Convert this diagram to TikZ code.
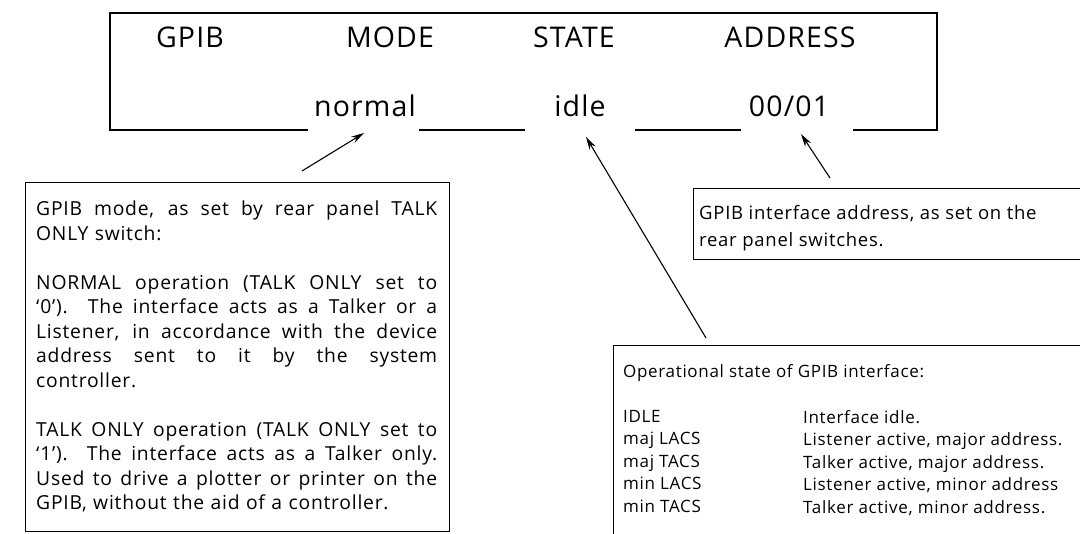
\documentclass[tikz,border=0pt]{standalone}
\usepackage{fontspec}
\setmainfont{Open Sans}[LetterSpace=4]
\usetikzlibrary{arrows.meta}
\newcommand{\jline}[1]{{\spaceskip=0.26em plus 2em\xspaceskip=0.3em plus 2em\makebox[401pt][s]{#1}}}
\begin{document}
\begin{tikzpicture}[x=1pt,y=-1pt,
  frame/.style={line width=2.6pt},
  thinbox/.style={line width=1pt},
  head/.style={font=\fontsize{28.5}{32}\selectfont, anchor=base, inner sep=0pt},
  note/.style={font=\fontsize{19.3}{24.5}\selectfont, anchor=north west, inner sep=0pt, align=left},
  note2/.style={font=\fontsize{17}{22.5}\selectfont, anchor=north west, inner sep=0pt, align=left},
  note3/.style={font=\fontsize{18.5}{27}\selectfont, anchor=north west, inner sep=0pt, align=left},
  pointer/.style={line width=1.1pt, -{Stealth[length=13pt,width=7pt]}},
]
\useasboundingbox (0,0) rectangle (1080,534);
\fill[white] (0,0) rectangle (1080,534);
\clip (0,0) rectangle (1080,534);

% display panel
\node[head] (hgpib) at (190,48) {GPIB};
\node[head] (hmode) at (390,48) {MODE};
\node[head] (hstate) at (574,48) {STATE};
\node[head] (haddr) at (790,48) {ADDRESS};
\node[head] (vmode) at (365,117) {normal};
\node[head] (vstate) at (580,117) {idle};
\node[head] (vaddr) at (789,117) {00/01};

\draw[frame] (308,130) -- (110,130) -- (110,13) -- (937,13) -- (937,130) -- (853,130);
\draw[frame] (419,130) -- (525,130);
\draw[frame] (635,130) -- (741,130);

% mode note
\draw[thinbox] (25,183) rectangle (449,532);
\node[note, text width=402pt] (modenote) at (36,201) {%
\jline{GPIB mode, as set by rear panel TALK}\\
ONLY switch:\\[24.5pt]
\jline{NORMAL operation (TALK ONLY set to}\\
\jline{`0').\ \ The interface acts as a Talker or a}\\
\jline{Listener, in accordance with the device}\\
\jline{address sent to it by the system}\\
controller.\\[24.5pt]
\jline{TALK ONLY operation (TALK ONLY set to}\\
\jline{`1').\ \ The interface acts as a Talker only.}\\
\jline{Used to drive a plotter or printer on the}\\
GPIB, without the aid of a controller.};

% address note
\draw[thinbox] (1090,189) -- (693,189) -- (693,260) -- (1090,260);
\node[note3] (addrnote) at (699,205) {GPIB interface address, as set on the\\rear panel switches.};

% state note
\draw[thinbox] (1090,346) -- (613,346) -- (613,540);
\node[note2] (statenote) at (623,364) {Operational state of GPIB interface:};
\node[note2] (statekeys) at (623,410) {IDLE\\maj LACS\\maj TACS\\min LACS\\min TACS};
\node[note2] (statedesc) at (803,410) {Interface idle.\\Listener active, major address.\\Talker active, major address.\\Listener active, minor address\\Talker active, minor address.};

% pointers
\coordinate (t1) at (302,171); \coordinate (h1) at (364,133);
\coordinate (t2) at (706,338); \coordinate (h2) at (586,137);
\coordinate (t3) at (830,178); \coordinate (h3) at (801,134);
\draw[pointer] (t1) -- (h1);
\draw[pointer] (t2) -- (h2);
\draw[pointer] (t3) -- (h3);
\end{tikzpicture}
\end{document}
